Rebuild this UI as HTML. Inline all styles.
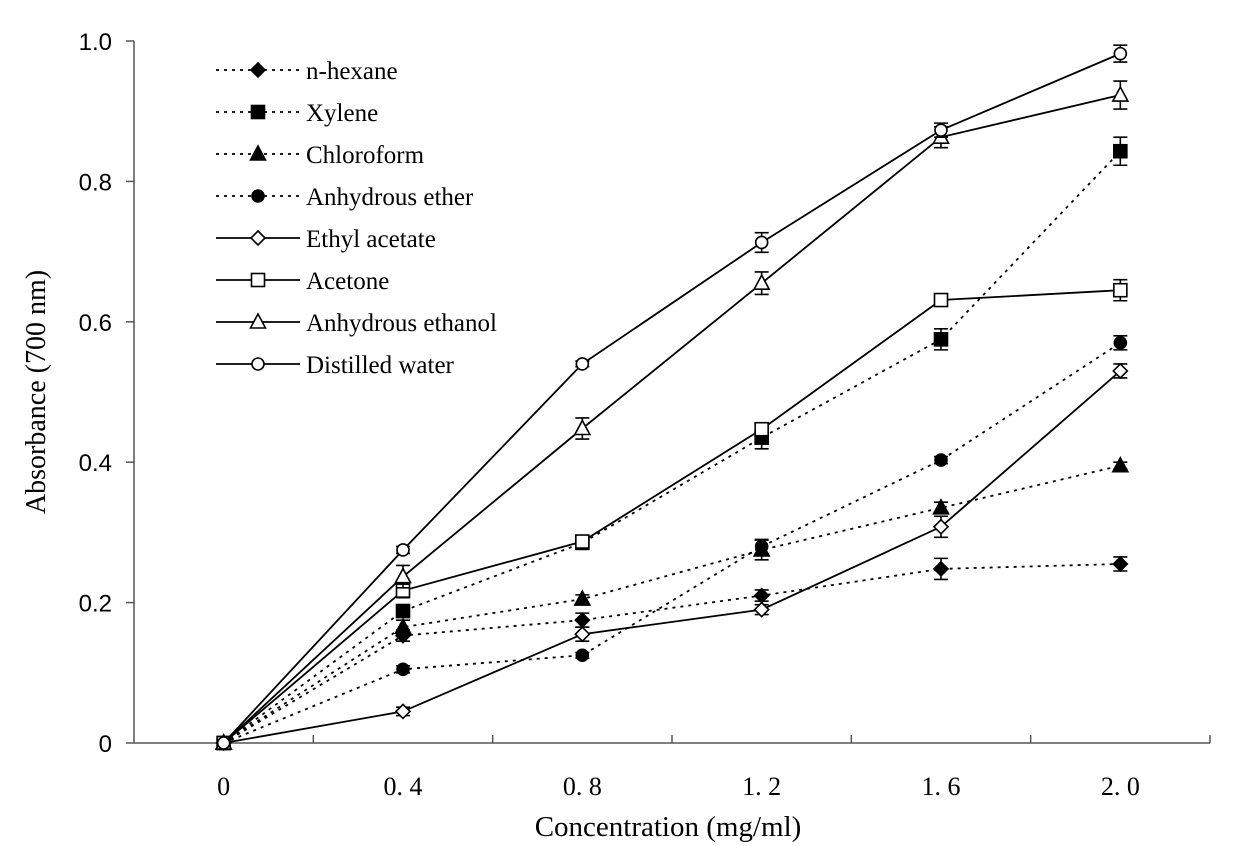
<!DOCTYPE html>
<html><head><meta charset="utf-8"><style>body{margin:0;background:#fff}svg{display:block}</style></head>
<body>
<svg id="chart" width="1233" height="846" xmlns="http://www.w3.org/2000/svg">
<g id="axes"></g>
<g id="series"></g>
<g id="legend"></g>
<text x="668" y="836" text-anchor="middle" font-family="Liberation Serif, serif" font-size="29">Concentration (mg/ml)</text>
<text transform="translate(45,392) rotate(-90)" text-anchor="middle" font-family="Liberation Serif, serif" font-size="28">Absorbance (700 nm)</text>
</svg>
<script>
const categories = ["0","0. 4","0. 8","1. 2","1. 6","2. 0"];
const yTicks = [0,0.2,0.4,0.6,0.8,1.0];
const yTickLabels = ["0","0.2","0.4","0.6","0.8","1.0"];
const seriesNames = ["n-hexane","Xylene","Chloroform","Anhydrous ether","Ethyl acetate","Acetone","Anhydrous ethanol","Distilled water"];
const nHexane = [0,0.153,0.175,0.21,0.248,0.255];
const xylene = [0,0.188,0.285,0.435,0.575,0.843];
const chloroform = [0,0.165,0.205,0.275,0.335,0.395];
const ether = [0,0.105,0.125,0.28,0.403,0.57];
const ethylAcetate = [0,0.045,0.155,0.19,0.308,0.53];
const acetone = [0,0.217,0.287,0.447,0.631,0.645];
const ethanol = [0,0.237,0.448,0.655,0.863,0.923];
const water = [0,0.275,0.54,0.713,0.873,0.982];
const errHexane = [0,0.008,0.01,0.008,0.015,0.01];
const errXylene = [0,0.008,0.005,0.016,0.015,0.02];
const errChloro = [0,0.01,0.006,0.014,0.008,0.005];
const errEther = [0,0.005,0.004,0.01,0.005,0.01];
const errEthyl = [0,0.006,0.01,0.007,0.015,0.01];
const errAcetone = [0,0.01,0.004,0.008,0.005,0.015];
const errEthanol = [0,0.016,0.015,0.016,0.015,0.02];
const errWater = [0,0.005,0.004,0.014,0.01,0.012];

const NS="http://www.w3.org/2000/svg";
const X0=134,X1=1210,Y0=743,Y1=41;
const xs=i=>X0+(X1-X0)/6*(i+0.5);
const ys=v=>Y0-(v/1.0)*(Y0-Y1);
function mk(tag,attrs,parent){const e=document.createElementNS(NS,tag);for(const k in attrs)e.setAttribute(k,attrs[k]);parent.appendChild(e);return e;}
const axes=document.getElementById('axes');
let a=mk('line',{x1:X0,y1:Y1,x2:X0,y2:Y0,stroke:'#555','stroke-width':1.5},axes);

a=mk('line',{x1:X0,y1:Y0,x2:X1,y2:Y0,stroke:'#555','stroke-width':1.5},axes);

yTicks.forEach((v,i)=>{
  const t=mk('line',{x1:X0-8,x2:X0,y1:ys(v),y2:ys(v),stroke:'#555','stroke-width':1.5},axes);
  
  const l=mk('text',{x:X0-22,y:ys(v)+9,'text-anchor':'end','font-family':'Liberation Sans, sans-serif','font-size':24},axes);
  l.textContent=yTickLabels[i];
  
});
for(let i=1;i<=6;i++){
  const x=X0+(X1-X0)/6*i;
  const t=mk('line',{x1:x,x2:x,y1:Y0-8,y2:Y0,stroke:'#555','stroke-width':1.5},axes);
  
}
categories.forEach((c,i)=>{
  const l=mk('text',{x:xs(i),y:795,'text-anchor':'middle','font-family':'Liberation Serif, serif','font-size':26},axes);
  l.textContent=c;
  
});
const all=[nHexane,xylene,chloroform,ether,ethylAcetate,acetone,ethanol,water];
const errs=[errHexane,errXylene,errChloro,errEther,errEthyl,errAcetone,errEthanol,errWater];
const markers=['diamond','square','triangle','circle','diamond','square','triangle','circle'];
const filled=[1,1,1,1,0,0,0,0];
function marker(g,type,fill,x,y){
  const f=fill?'#000':'#fff';let m;
  if(type==='diamond')m=mk('polygon',{points:`${x},${y-7} ${x+7},${y} ${x},${y+7} ${x-7},${y}`,fill:f,stroke:'#000','stroke-width':1.6},g);
  else if(type==='square')m=mk('rect',{x:x-6.5,y:y-6.5,width:13,height:13,fill:f,stroke:'#000','stroke-width':1.6},g);
  else if(type==='triangle')m=mk('polygon',{points:`${x},${y-8} ${x+7.5},${y+6} ${x-7.5},${y+6}`,fill:f,stroke:'#000','stroke-width':1.6},g);
  else m=mk('circle',{cx:x,cy:y,r:6,fill:f,stroke:'#000','stroke-width':1.6},g);
  return m;
}
const sg=document.getElementById('series');
const lg=document.getElementById('legend');
all.forEach((vals,s)=>{
  const g=mk('g',{},sg);
  
  
  const dash=filled[s]?'3,5':'none';
  const p=mk('polyline',{points:vals.map((v,i)=>xs(i)+','+ys(v)).join(' '),fill:'none',stroke:'#000','stroke-width':1.8,'stroke-dasharray':dash},g);
  
  vals.forEach((v,i)=>{
    const e=errs[s][i];
    if(e>0){
      const x=xs(i);
      const eb=mk('path',{d:`M${x},${ys(v+e)}V${ys(v-e)}M${x-7},${ys(v+e)}H${x+7}M${x-7},${ys(v-e)}H${x+7}`,stroke:'#000','stroke-width':1.6,fill:'none'},g);
      
    }
    const m=marker(g,markers[s],filled[s],xs(i),ys(v));
    
  });
  const ly=70+s*42;
  const le=mk('g',{},lg);
  
  mk('line',{x1:216,x2:300,y1:ly,y2:ly,stroke:'#000','stroke-width':1.8,'stroke-dasharray':filled[s]?'3,5':'none'},le);
  marker(le,markers[s],filled[s],258,ly);
  const t=mk('text',{x:306,y:ly+9,'font-family':'Liberation Serif, serif','font-size':25},le);
  t.textContent=seriesNames[s];
});
</script>
</body></html>
